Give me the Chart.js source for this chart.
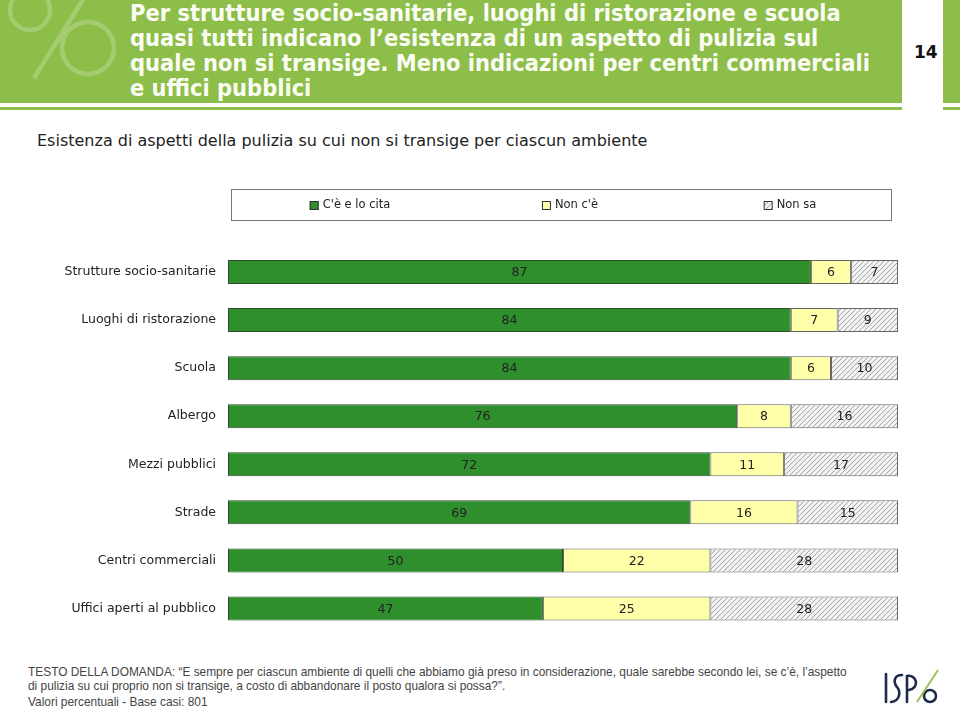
<!DOCTYPE html>
<html>
<head>
<meta charset="utf-8">
<script src="https://cdn.jsdelivr.net/npm/chart.js@4/dist/chart.umd.min.js"></script>
<style>
  body { margin: 0; width: 960px; height: 712px; position: relative; background: #fff; overflow: hidden; font-family: "DejaVu Sans", sans-serif; }
  .band { position: absolute; top: 0; height: 103px; background: #8DBE4A; overflow: hidden; }
  .rule { position: absolute; top: 107px; height: 3px; background: #8DBE4A; }
  .pct { position: absolute; left: 0; top: 0; }
  .title { position: absolute; left: 130px; top: 1px; width: 770px; font: bold 23.4px "DejaVu Sans Condensed", "DejaVu Sans", sans-serif; line-height: 25px; color: #fbfdf5; white-space: nowrap; }
  .page { position: absolute; left: 914px; top: 42px; font: bold 17px "DejaVu Sans", sans-serif; color: #111; }
  .sub { position: absolute; left: 37px; top: 131px; font: 16px "DejaVu Sans", sans-serif; color: #222; }
  .foot { position: absolute; left: 28px; font: 11.9px "Liberation Sans", sans-serif; color: #444; white-space: nowrap; }
  .logo { position: absolute; left: 880px; top: 668px; }
  canvas { position: absolute; left: 0; top: 180px; }
</style>
</head>
<body>
<div class="band" style="left:0;width:902px;">
  <svg class="pct" width="130" height="103">
    <g fill="none" stroke="rgba(255,255,255,0.22)" stroke-width="4.5">
      <circle cx="30" cy="10" r="20"/>
      <circle cx="88" cy="48" r="26"/>
      <line x1="34" y1="78" x2="84" y2="-2"/>
    </g>
  </svg>
</div>
<div class="band" style="left:943px;width:17px;"></div>
<div class="rule" style="left:0;width:902px;"></div>
<div class="rule" style="left:943px;width:17px;"></div>
<div class="title">Per strutture socio-sanitarie, luoghi di ristorazione e scuola<br>quasi tutti indicano l’esistenza di un aspetto di pulizia sul<br>quale non si transige. Meno indicazioni per centri commerciali<br>e uffici pubblici</div>
<div class="page">14</div>
<div class="sub">Esistenza di aspetti della pulizia su cui non si transige per ciascun ambiente</div>
<canvas id="grafico" width="960" height="472"></canvas>
<div class="foot" style="top:665px;">TESTO DELLA DOMANDA: “E sempre per ciascun ambiente di quelli che abbiamo già preso in considerazione, quale sarebbe secondo lei, se c’è, l’aspetto</div>
<div class="foot" style="top:679px;">di pulizia su cui proprio non si transige, a costo di abbandonare il posto qualora si possa?”.</div>
<div class="foot" style="top:695px;">Valori percentuali - Base casi: 801</div>
<svg class="logo" width="70" height="40">
  <g fill="none" stroke="#1d2a4a" stroke-width="2.6" stroke-linecap="round">
    <line x1="6" y1="6" x2="6" y2="34"/>
    <path d="M22 7 C14 7 13 14 17 19 C21 24 20 33 11 34"/>
    <path d="M27 34 L27 8 C37 6 40 20 29 22"/>
    <circle cx="50" cy="28" r="6"/>
  </g>
  <line x1="37" y1="34" x2="58" y2="2" stroke="#9cc35a" stroke-width="2"/>
</svg>
<script>
const ambienti = ["Strutture socio-sanitarie", "Luoghi di ristorazione", "Scuola", "Albergo",
  "Mezzi pubblici", "Strade", "Centri commerciali", "Uffici aperti al pubblico"];
const cita = [87, 84, 84, 76, 72, 69, 50, 47];
const nonCe = [6, 7, 6, 8, 11, 16, 22, 25];
const nonSa = [7, 9, 10, 16, 17, 15, 28, 28];
const legende = ["C'è e lo cita", "Non c'è", "Non sa"];

// tratteggio per "Non sa"
function tratteggio() {
  const c = document.createElement("canvas");
  c.width = 5; c.height = 5;
  const g = c.getContext("2d");
  g.fillStyle = "#f2f2f2";
  g.fillRect(0, 0, 5, 5);
  g.strokeStyle = "#a6a6a6";
  g.lineWidth = 1;
  g.beginPath();
  g.moveTo(-1, 6); g.lineTo(6, -1);
  g.moveTo(-1, 1); g.lineTo(1, -1);
  g.moveTo(4, 6); g.lineTo(6, 4);
  g.stroke();
  return g.createPattern(c, "repeat");
}

// legenda in un riquadro
const legendaBox = {
  id: "legendaBox",
  afterDraw(chart) {
    const ctx = chart.ctx;
    const x0 = 231, x1 = 891, y0 = 9, y1 = 40;
    ctx.save();
    ctx.strokeStyle = "#777";
    ctx.lineWidth = 1;
    ctx.strokeRect(x0 + 0.5, y0 + 0.5, x1 - x0, y1 - y0);
    ctx.font = "11.5px 'DejaVu Sans'";
    ctx.textBaseline = "middle";
    const col = (x1 - x0) / 3;
    chart.data.datasets.forEach((ds, i) => {
      const w = 13 + ctx.measureText(ds.label).width;
      const sx = x0 + col * i + col / 2 - w / 2 + 9;
      const cy = (y0 + y1) / 2 + 1;
      ctx.fillStyle = ds.backgroundColor;
      ctx.fillRect(sx, cy - 4.5, 9, 9);
      ctx.strokeStyle = "#333";
      ctx.strokeRect(sx + 0.5, cy - 4, 8, 8);
      ctx.fillStyle = "#222";
      ctx.textAlign = "left";
      ctx.fillText(ds.label, sx + 13, cy);
    });
    ctx.restore();
  }
};

// valori dentro i segmenti
const etichette = {
  id: "etichette",
  afterDatasetsDraw(chart) {
    const ctx = chart.ctx;
    ctx.save();
    ctx.font = "12.5px 'DejaVu Sans'";
    ctx.fillStyle = "#222";
    ctx.textAlign = "center";
    ctx.textBaseline = "middle";
    chart.data.datasets.forEach((ds, i) => {
      chart.getDatasetMeta(i).data.forEach((bar, j) => {
        ctx.fillText(ds.data[j], (bar.x + bar.base) / 2, bar.y + 1);
      });
    });
    ctx.restore();
  }
};

new Chart(document.getElementById("grafico"), {
  type: "bar",
  data: {
    labels: ambienti,
    datasets: [
      { label: legende[0], data: cita, backgroundColor: "#2E8F2C", borderColor: "#254f25", borderWidth: 1, borderSkipped: false },
      { label: legende[1], data: nonCe, backgroundColor: "#FFFFAA", borderColor: "#666", borderWidth: 1, borderSkipped: false },
      { label: legende[2], data: nonSa, backgroundColor: tratteggio(), borderColor: "#666", borderWidth: 1, borderSkipped: false }
    ]
  },
  options: {
    indexAxis: "y",
    responsive: false,
    animation: false,
    layout: { padding: { top: 68, bottom: 8, right: 62, left: 0 } },
    datasets: { bar: { barPercentage: 0.5, categoryPercentage: 1 } },
    plugins: {
      legend: { display: false },
      tooltip: { enabled: false }
    },
    scales: {
      x: { stacked: true, min: 0, max: 100, display: false },
      y: {
        stacked: true,
        grid: { display: false, drawTicks: false },
        border: { display: false },
        afterFit(scale) { scale.width = 228; },
        ticks: { padding: 12, color: "#222", font: { family: "DejaVu Sans", size: 12.5 } }
      }
    }
  },
  plugins: [legendaBox, etichette]
});
</script>
</body>
</html>
